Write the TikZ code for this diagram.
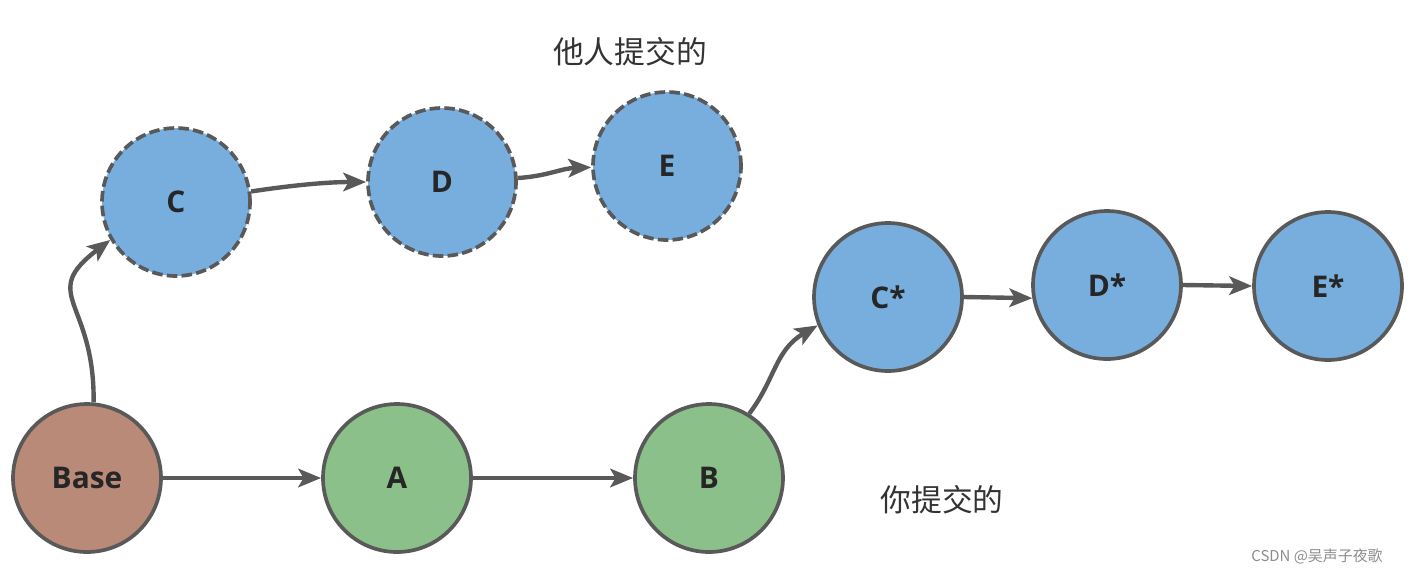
\documentclass[tikz,border=0pt]{standalone}
\usepackage{fontspec}
\setsansfont{Open Sans}
\newfontfamily\cjk{Noto Sans CJK SC}
\usetikzlibrary{arrows.meta}
\definecolor{basefill}{HTML}{B98A78}
\definecolor{minefill}{HTML}{8CC08A}
\definecolor{otherfill}{HTML}{78AEDE}
\definecolor{edgegray}{HTML}{595959}
\begin{document}
\begin{tikzpicture}[x=0.02cm, y=-0.02cm,
  commit/.style={circle, draw=edgegray, line width=2.1pt, minimum size=2.96cm, inner sep=0pt,
    font=\sffamily\bfseries\fontsize{17}{20}\selectfont, text=black!85},
  theirs/.style={commit, fill=otherfill, dash pattern=on 6pt off 2.4pt},
  link/.style={-{Stealth[length=13pt, width=10.5pt, inset=3pt]}, line width=2.5pt, draw=edgegray},
  caption/.style={font=\cjk\fontsize{17.5}{20}\selectfont, text=black!80}]
  \useasboundingbox (0,0) rectangle (1418,576);
  % commits
  \node[commit, fill=basefill] (base) at (87,478) {Base};
  \foreach \n/\x/\t in {a/397/A, b/709/B}
    \node[commit, fill=minefill] (\n) at (\x,478) {\t};
  \foreach \n/\x/\y/\t in {c/176/202/C, d/442/182/D, e/667/166/E}
    \node[theirs] (\n) at (\x,\y) {\t};
  \foreach \n/\x/\y/\t in {cs/888/297/C*, ds/1107/285/D*, es/1328/286/E*}
    \node[commit, fill=otherfill] (\n) at (\x,\y) {\t};
  % links
  \draw[link] (base.east) -- (a.west);
  \draw[link] (a.east) -- (b.west);
  \draw[link] (base.85) .. controls (95,300) and (38,295) .. (c.210);
  \draw[link] (c.8) .. controls +(40,-6) and +(-40,0) .. (d.180);
  \draw[link] (d.3) .. controls +(30,-2) and +(-30,1) .. (e.181);
  \draw[link] (b.58) .. controls (775,380) and (775,350) .. (cs.202);
  \draw[link] (cs.east) -- (ds.190);
  \draw[link] (ds.east) -- (es.west);
  % captions
  \node[caption] (others) at (630,52) {他人提交的};
  \node[caption] (mine) at (942,500) {你提交的};
  \node[font=\cjk\fontsize{8.5}{10}\selectfont, text=black!45] (mark) at (1317,556) {CSDN @吴声子夜歌};
\end{tikzpicture}
\end{document}
